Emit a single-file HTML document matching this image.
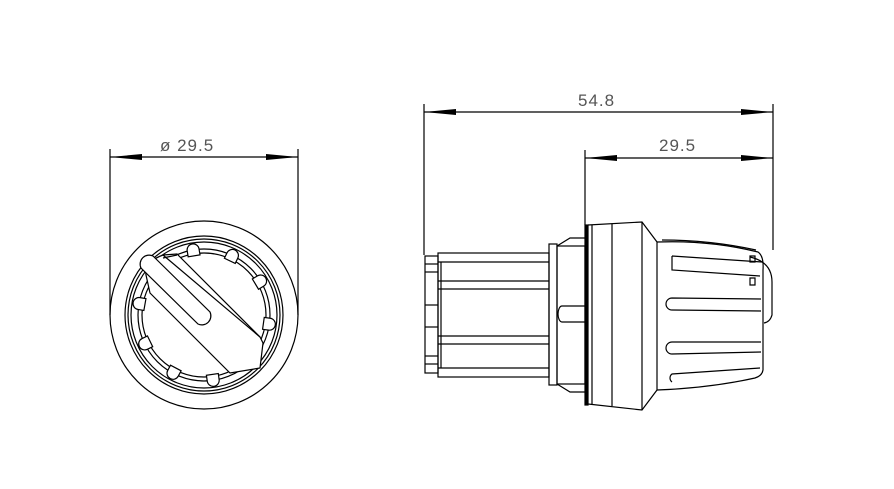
<!DOCTYPE html>
<html><head><style>html,body{margin:0;padding:0;background:#fff}svg{display:block}</style></head>
<body>
<svg width="894" height="489" viewBox="0 0 894 489" xmlns="http://www.w3.org/2000/svg">
<defs>
<marker id="a" viewBox="0 0 32 6" refX="32" refY="3" markerWidth="32" markerHeight="6" markerUnits="userSpaceOnUse" orient="auto-start-reverse"><path d="M0,0 L32,3 L0,6z" fill="#000"/></marker>
<path id="b" d="M198,249 a6,6 0 0 1 12,0 v6 h-12z" fill="#fff" stroke="#000" stroke-width="1.2"/>
</defs>
<g stroke="#000" fill="none" stroke-width="1.2">
<line x1="110" y1="149" x2="110" y2="315"/>
<line x1="298" y1="149" x2="298" y2="315"/>
<line x1="110" y1="157" x2="298" y2="157" marker-start="url(#a)" marker-end="url(#a)"/>
<line x1="424" y1="104" x2="424" y2="255"/>
<line x1="773" y1="104" x2="773" y2="250"/>
<line x1="424" y1="112" x2="773" y2="112" marker-start="url(#a)" marker-end="url(#a)"/>
<line x1="585" y1="150" x2="585" y2="225"/>
<line x1="585" y1="158" x2="773" y2="158" marker-start="url(#a)" marker-end="url(#a)"/>
<!-- front view -->
<circle cx="204" cy="315" r="94"/>
<circle cx="204" cy="315" r="79"/>
<circle cx="204" cy="315" r="76"/>
<circle cx="204" cy="315" r="73"/>
<circle cx="204" cy="315" r="66"/>
<circle cx="204" cy="315" r="62"/>
<use href="#b" transform="rotate(-9.5 204 315)"/>
<use href="#b" transform="rotate(25.5 204 315)"/>
<use href="#b" transform="rotate(59 204 315)"/>
<use href="#b" transform="rotate(98 204 315)"/>
<use href="#b" transform="rotate(134 204 315)"/>
<use href="#b" transform="rotate(172 204 315)"/>
<use href="#b" transform="rotate(208 204 315)"/>
<use href="#b" transform="rotate(244 204 315)"/>
<use href="#b" transform="rotate(280 204 315)"/>
<path d="M163,255 L177,254 L260,337 L263,343 L260,368 L230,373 L150,293 L146,275 Q144,262 163,255 Z" fill="#fff"/>
<path d="M163,258 L177,255"/>
<path d="M163,255 L260,337"/>
<path d="M153,256 L210,312 a9,9 0 0 1 -12,12 L141,268 a9,9 0 0 1 12,-12 Z" fill="#fff"/>
<!-- side view -->
<rect x="425" y="256" width="13" height="117"/>
<line x1="425" y1="264" x2="438" y2="264"/><line x1="425" y1="272" x2="438" y2="272"/>
<line x1="425" y1="305" x2="438" y2="305"/><line x1="425" y1="327" x2="438" y2="327"/>
<line x1="425" y1="356" x2="438" y2="356"/><line x1="425" y1="364" x2="438" y2="364"/>
<rect x="438" y="253" width="111" height="124"/>
<line x1="438" y1="262" x2="549" y2="262"/>
<line x1="438" y1="281" x2="549" y2="281"/><line x1="438" y1="289" x2="549" y2="289"/>
<line x1="438" y1="336" x2="549" y2="336"/><line x1="438" y1="344" x2="549" y2="344"/>
<line x1="438" y1="368" x2="549" y2="368"/>
<line x1="441" y1="262" x2="441" y2="368"/>
<rect x="549" y="244" width="8" height="141"/>
<path d="M557,246 L570,238 L586,238 M557,384 L570,392 L586,392"/>
<rect x="557" y="246" width="28" height="138"/>
<path d="M562,306 a4,8 0 0 0 0,16 M562,306 h23 M562,322 h23"/>
<rect x="585" y="225" width="3" height="180" fill="#000"/>
<line x1="592" y1="225" x2="592" y2="404"/>
<line x1="612" y1="224" x2="612" y2="406"/>
<path d="M588,225 L642,222 L657,242 L657,390 L642,410 L588,404"/>
<line x1="642" y1="222" x2="642" y2="410"/>
<path d="M657,242 Q710,240 758,252 Q764,256 763,270 L763,370 Q762,376 755,378 Q710,388 657,390"/>
<path d="M662,240 Q710,240 756,250"/>
<path d="M672,256 L762,262 M672,256 L672,270 L760,276"/>
<path d="M672,298 a6,6 0 0 0 0,12 M672,298 L761,299 M672,310 L761,311"/>
<path d="M672,342 a6,6 0 0 0 0,12 M672,342 L761,342 M672,354 L761,352"/>
<path d="M672,382 a5,5 0 0 1 0,-8 L760,368"/>
<path d="M750,257 Q772,262 772,282 L772,315 Q770,322 764,323"/>
<path d="M750,256 h5 v6 h-5z M750,278 h5 v7 h-5z"/>
</g>
<g font-family="Liberation Sans, sans-serif" font-size="17" fill="#555" letter-spacing="1">
<text x="160" y="151">ø 29.5</text>
<text x="578" y="106">54.8</text>
<text x="659" y="151">29.5</text>
</g>
</svg>
</body></html>
